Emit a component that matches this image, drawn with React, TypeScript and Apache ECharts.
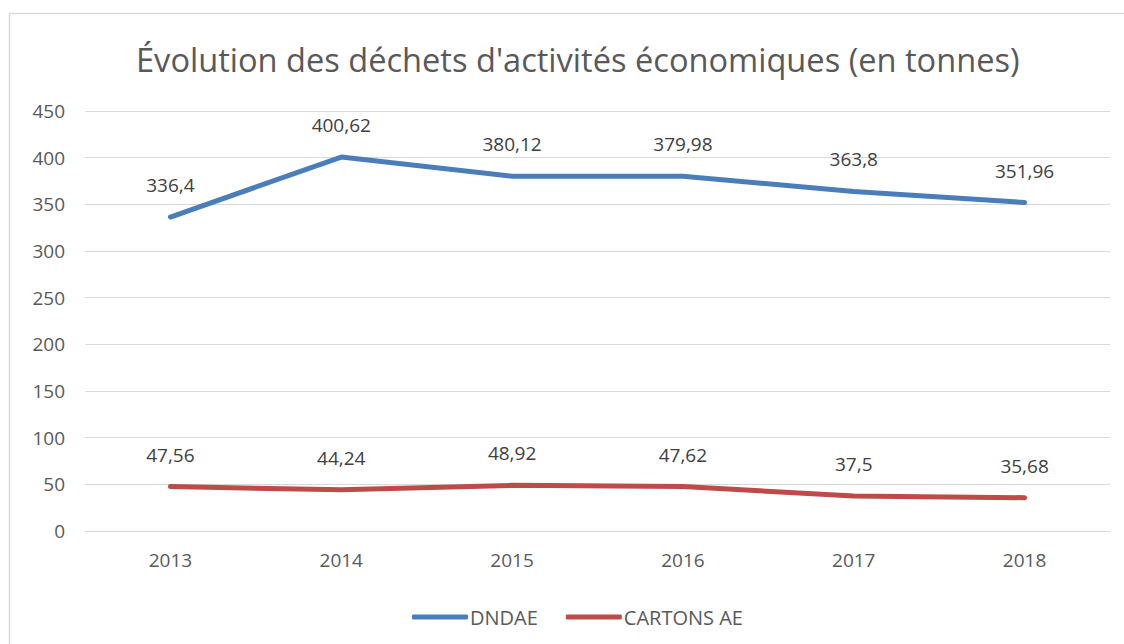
import React, { useEffect, useRef } from "react";
import * as echarts from "echarts";

const years = ["2013", "2014", "2015", "2016", "2017", "2018"];
const dndae = [336.4, 400.62, 380.12, 379.98, 363.8, 351.96];
const cartons = [47.56, 44.24, 48.92, 47.62, 37.5, 35.68];
const seriesNames = ["DNDAE", "CARTONS AE"];
const titleText = "Évolution des déchets d'activités économiques (en tonnes)";

const FONT = "'Open Sans', 'Noto Sans', sans-serif";

export default function App() {
  const ref = useRef<HTMLDivElement>(null);
  useEffect(() => {
    if (!ref.current) return;
    const chart = echarts.init(ref.current, null, { renderer: "svg" });
    const fmt = (p: any) => String(p.value).replace(".", ",");
    const label = {
      show: true,
      position: "top",
      distance: 22,
      fontFamily: FONT,
      fontSize: 19,
      color: "#404040",
      formatter: fmt,
    };
    chart.setOption({
      animation: false,
      backgroundColor: "#ffffff",
      title: {
        text: titleText,
        left: 131,
        top: 38,
        textStyle: { fontFamily: FONT, fontSize: 32.6, fontWeight: "normal", color: "#595959" },
      },
      graphic: [
        {
          type: "rect",
          shape: { x: 9.5, y: 13.5, width: 1130, height: 640 },
          style: { fill: "none", stroke: "#d9d9d9", lineWidth: 1.5 },
          silent: true,
        },
      ],
      legend: {
        bottom: 12,
        left: 407,
        itemWidth: 56,
        itemHeight: 5,
        itemGap: 28,
        icon: "roundRect",
        textStyle: { fontFamily: FONT, fontSize: 20, color: "#595959", padding: [0, 0, 0, -3] },
        data: seriesNames,
      },
      grid: { left: 85, right: 14, top: 111, bottom: 113 },
      xAxis: {
        type: "category",
        data: years,
        boundaryGap: true,
        axisLine: { show: true, lineStyle: { color: "#d9d9d9", width: 1 } },
        axisTick: { show: false },
        axisLabel: { fontFamily: FONT, fontSize: 19, color: "#595959", margin: 19 },
      },
      yAxis: {
        type: "value",
        min: 0,
        max: 450,
        interval: 50,
        axisLine: { show: false },
        axisTick: { show: false },
        splitLine: { lineStyle: { color: "#d9d9d9", width: 1 } },
        axisLabel: { fontFamily: FONT, fontSize: 19, color: "#595959", margin: 20 },
      },
      series: [
        {
          name: seriesNames[0],
          type: "line",
          data: dndae,
          symbol: "circle",
          symbolSize: 1,
          showSymbol: true,
          lineStyle: { color: "#4a7ebb", width: 5, cap: "round", join: "round" },
          itemStyle: { color: "#4a7ebb" },
          label,
        },
        {
          name: seriesNames[1],
          type: "line",
          data: cartons,
          symbol: "circle",
          symbolSize: 1,
          showSymbol: true,
          lineStyle: { color: "#be4b48", width: 5, cap: "round", join: "round" },
          itemStyle: { color: "#be4b48" },
          label,
        },
      ],
    });
    return () => chart.dispose();
  }, []);
  return (
    <div
      ref={ref}
      style={{ position: "absolute", left: 0, top: 0, width: 1124, height: 644 }}
    />
  );
}
